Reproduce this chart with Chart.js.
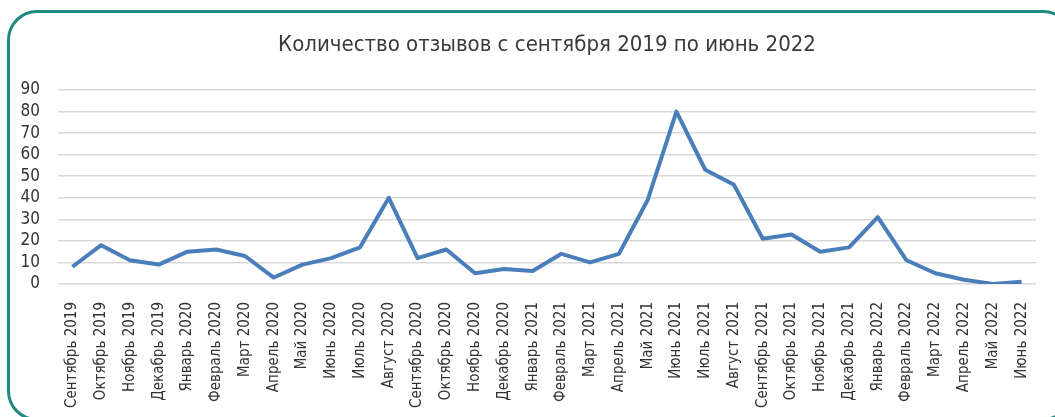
<!DOCTYPE html>
<html lang="ru">
<head>
<meta charset="utf-8">
<title>Количество отзывов</title>
<script src="https://cdn.jsdelivr.net/npm/chart.js@4.4.1/dist/chart.umd.min.js"></script>
<style>
  html, body { margin: 0; padding: 0; background: #fff; overflow: hidden; }
  #frame {
    position: absolute; left: 7px; top: 10px;
    width: 1066px; height: 411px;
    border: 3px solid #1d8a82; border-radius: 30px;
    box-sizing: border-box;
  }
  #chart { position: absolute; left: 0; top: 0; }
</style>
</head>
<body>
<div id="frame"></div>
<canvas id="chart" width="1055" height="417"></canvas>
<script>
  const months = [
    'Сентябрь 2019', 'Октябрь 2019', 'Ноябрь 2019', 'Декабрь 2019',
    'Январь 2020', 'Февраль 2020', 'Март 2020', 'Апрель 2020', 'Май 2020', 'Июнь 2020',
    'Июль 2020', 'Август 2020', 'Сентябрь 2020', 'Октябрь 2020', 'Ноябрь 2020', 'Декабрь 2020',
    'Январь 2021', 'Февраль 2021', 'Март 2021', 'Апрель 2021', 'Май 2021', 'Июнь 2021',
    'Июль 2021', 'Август 2021', 'Сентябрь 2021', 'Октябрь 2021', 'Ноябрь 2021', 'Декабрь 2021',
    'Январь 2022', 'Февраль 2022', 'Март 2022', 'Апрель 2022', 'Май 2022', 'Июнь 2022'
  ];
  const reviews = [
    8, 18, 11, 9,
    15, 16, 13, 3, 9, 12,
    17, 40, 12, 16, 5, 7,
    6, 14, 10, 14, 39, 80,
    53, 46, 21, 23, 15, 17,
    31, 11, 5, 2, 0, 1
  ];
  const yTicks = [0, 10, 20, 30, 40, 50, 60, 70, 80, 90];

  const narrow = "'DejaVu Sans Condensed', 'Liberation Sans Narrow', sans-serif";

  new Chart(document.getElementById('chart'), {
    type: 'line',
    data: {
      labels: months,
      datasets: [{
        data: reviews,
        borderColor: '#4a7ebb',
        borderWidth: 4,
        borderJoinStyle: 'round',
        pointRadius: 0,
        tension: 0,
        fill: false
      }]
    },
    options: {
      responsive: false,
      devicePixelRatio: 1,
      animation: false,
      layout: { padding: { left: 0, right: 19, top: 0, bottom: 0 } },
      plugins: {
        legend: { display: false },
        tooltip: { enabled: false },
        title: {
          display: true,
          fullSize: false,
          text: 'Количество отзывов с сентября 2019 по июнь 2022',
          color: '#3a3a3a',
          font: { family: narrow, size: 22, weight: 'normal' },
          padding: { top: 31.8, bottom: 31.8 }
        }
      },
      scales: {
        x: {
          offset: true,
          grid: { display: false },
          border: { display: false },
          ticks: {
            autoSkip: false,
            minRotation: 90,
            maxRotation: 90,
            padding: 10,
            color: '#333',
            font: { family: narrow, size: 15 }
          },
          afterFit: (scale) => { scale.height = 133; }
        },
        y: {
          min: yTicks[0],
          max: yTicks[yTicks.length - 1],
          grid: { color: '#d9d9d9', lineWidth: 1.5, drawTicks: false },
          border: { display: false },
          afterBuildTicks: (scale) => { scale.ticks = yTicks.map(v => ({ value: v })); },
          ticks: {
            autoSkip: false,
            padding: 18,
            color: '#333',
            font: { family: narrow, size: 17 }
          },
          afterFit: (scale) => { scale.width = 58; }
        }
      }
    }
  });
</script>
</body>
</html>
